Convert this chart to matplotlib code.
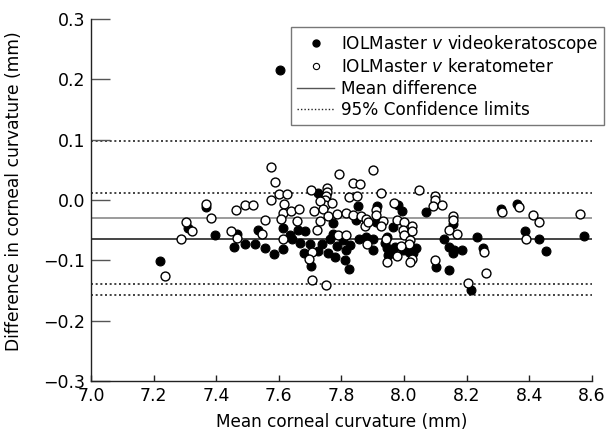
import matplotlib
matplotlib.use("Agg")
import matplotlib.pyplot as plt
from matplotlib.lines import Line2D

plt.rcParams["font.family"] = ["DejaVu Sans"]
plt.rcParams["mathtext.fontset"] = "custom"
plt.rcParams["mathtext.it"] = "DejaVu Sans:italic"

# IOLMaster v videokeratoscope (filled)
video_x = [7.604, 7.367, 7.311, 7.395, 7.221, 7.465, 7.458, 7.492, 7.525, 7.534,
           7.556, 7.584, 7.612, 7.614, 7.636, 7.641, 7.662, 7.684, 7.667, 7.699,
           7.680, 7.702, 7.726, 7.772, 7.774, 7.763, 7.737, 7.726, 7.758, 7.779,
           7.785, 7.854, 7.846, 7.804, 7.827, 7.816, 7.811, 7.825, 7.857, 7.880,
           7.902, 7.900, 7.915, 7.912, 7.944, 7.939, 7.946, 7.949, 7.966, 7.982,
           7.992, 7.971, 7.966, 7.997, 8.017, 8.029, 8.038, 8.070, 8.155, 8.129,
           8.145, 8.159, 8.157, 8.184, 8.102, 8.145, 8.213, 8.232, 8.253, 8.309,
           8.362, 8.386, 8.432, 8.455, 8.576]
video_y = [0.215, -0.011, -0.047, -0.057, -0.101, -0.056, -0.078, -0.072, -0.072, -0.050,
           -0.079, -0.090, -0.081, -0.047, -0.057, -0.065, -0.050, -0.051, -0.071, -0.072,
           -0.087, -0.109, 0.011, -0.038, -0.056, -0.065, -0.072, -0.084, -0.087, -0.094,
           -0.076, -0.010, -0.033, -0.066, -0.075, -0.083, -0.099, -0.115, -0.065, -0.061,
           -0.065, -0.082, -0.010, -0.036, -0.061, -0.071, -0.080, -0.091, -0.045, -0.008,
           -0.018, -0.077, -0.088, -0.083, -0.086, -0.088, -0.080, -0.019, -0.039, -0.064,
           -0.077, -0.082, -0.088, -0.083, -0.111, -0.116, -0.149, -0.061, -0.080, -0.014,
           -0.007, -0.052, -0.065, -0.085, -0.059]

# IOLMaster v keratometer (open)
kerato_x = [7.367, 7.303, 7.324, 7.288, 7.382, 7.236, 7.463, 7.492, 7.516, 7.446,
            7.465, 7.574, 7.588, 7.601, 7.625, 7.574, 7.618, 7.612, 7.638, 7.665,
            7.556, 7.606, 7.657, 7.545, 7.614, 7.705, 7.697, 7.705, 7.751, 7.703,
            7.753, 7.753, 7.750, 7.749, 7.748, 7.731, 7.769, 7.712, 7.740, 7.758,
            7.731, 7.723, 7.790, 7.793, 7.836, 7.859, 7.825, 7.849, 7.785, 7.814,
            7.836, 7.816, 7.861, 7.878, 7.875, 7.886, 7.882, 7.900, 7.928, 7.912,
            7.910, 7.932, 7.925, 7.942, 7.946, 7.976, 7.968, 8.000, 8.024, 7.997,
            8.024, 8.000, 8.019, 8.017, 7.989, 7.976, 8.024, 8.019, 8.049, 8.099,
            8.099, 8.093, 8.120, 8.157, 8.155, 8.145, 8.168, 8.099, 8.205, 8.255,
            8.262, 8.312, 8.368, 8.411, 8.432, 8.391, 8.562]
kerato_y = [-0.007, -0.037, -0.051, -0.065, -0.030, -0.126, -0.016, -0.008, -0.008, -0.051,
            -0.063, 0.055, 0.030, 0.010, 0.010, 0.000, -0.006, -0.021, -0.018, -0.014,
            -0.033, -0.032, -0.034, -0.056, -0.064, -0.086, -0.098, -0.133, -0.140, 0.017,
            0.020, 0.014, 0.007, 0.000, -0.008, -0.001, -0.004, -0.018, -0.014, -0.027,
            -0.034, -0.049, -0.058, 0.043, 0.029, 0.026, 0.005, 0.007, -0.023, -0.021,
            -0.025, -0.058, -0.027, -0.031, -0.043, -0.036, -0.073, 0.050, 0.011, -0.017,
            -0.024, -0.034, -0.043, -0.065, -0.102, -0.033, -0.004, -0.036, -0.043, -0.049,
            -0.051, -0.058, -0.066, -0.073, -0.076, -0.093, -0.097, -0.102, 0.017, 0.007,
            0.000, -0.010, -0.008, -0.027, -0.033, -0.050, -0.056, -0.099, -0.137, -0.086,
            -0.120, -0.020, -0.012, -0.024, -0.036, -0.064, -0.023]

mean_kerato = -0.030
mean_video = -0.064
limits = [0.098, 0.012, -0.139, -0.157]

fig = plt.figure(figsize=(6.07, 4.36), dpi=100)
ax = fig.add_axes([0.150, 0.126, 0.825, 0.830])

ax.axhline(mean_kerato, color="#8a8a8a", lw=1.2, zorder=1)
ax.axhline(mean_video, color="#444444", lw=1.4, zorder=1)
for l in limits:
    ax.axhline(l, color="#222222", lw=1.2, ls=(0, (1.2, 1.6)), zorder=1)

ax.plot(video_x, video_y, "o", ms=6.4, mfc="black", mec="black", mew=0.8, zorder=2)
ax.plot(kerato_x, kerato_y, "o", ms=6.4, mfc="white", mec="black", mew=1.0, zorder=3)

ax.set_xlim(7.0, 8.6)
ax.set_ylim(-0.3, 0.3)
ax.set_xticks([7.0, 7.2, 7.4, 7.6, 7.8, 8.0, 8.2, 8.4, 8.6])
ax.set_yticks([0.3, 0.2, 0.1, 0.0, -0.1, -0.2, -0.3])
ax.set_yticklabels(["0.3", "0.2", "0.1", "0.0", "\u22120.1", "\u22120.2", "\u22120.3"])
ax.spines["top"].set_visible(False)
ax.spines["right"].set_visible(False)
for s in ["left", "bottom"]:
    ax.spines[s].set_color("#222222")
    ax.spines[s].set_linewidth(1.0)
ax.tick_params(axis="y", direction="in", length=14, width=1.0, color="#555555", labelsize=12.5, pad=4)
ax.tick_params(axis="x", direction="in", length=4, width=1.0, color="#222222", labelsize=12.5, pad=4)
ax.set_xlabel("Mean corneal curvature (mm)", fontsize=12.2, labelpad=6)
ax.set_ylabel("Difference in corneal curvature (mm)", fontsize=12.3)
ax.yaxis.set_label_coords(-0.136, 0.525)

handles = [
    Line2D([], [], ls="none", marker="o", ms=5, mfc="black", mec="black"),
    Line2D([], [], ls="none", marker="o", ms=4.5, mfc="white", mec="black", mew=0.8),
    Line2D([], [], color="#555555", lw=1.0),
    Line2D([], [], color="#222222", lw=1.0, ls=(0, (1, 1.5))),
]
labels = ["IOLMaster $\\it{v}$ videokeratoscope", "IOLMaster $\\it{v}$ keratometer",
          "Mean difference", "95% Confidence limits"]
leg = fig.legend(handles, labels, loc="upper left", bbox_to_anchor=(291 / 607, 1 - 27 / 436),
                 fontsize=12.2, frameon=True, fancybox=False, borderaxespad=0, handlelength=2.2,
                 handletextpad=0.4, labelspacing=0.2, borderpad=0.35)
leg.get_frame().set_edgecolor("#555555")
leg.get_frame().set_linewidth(1.0)

fig.savefig("out.png", dpi=100)
